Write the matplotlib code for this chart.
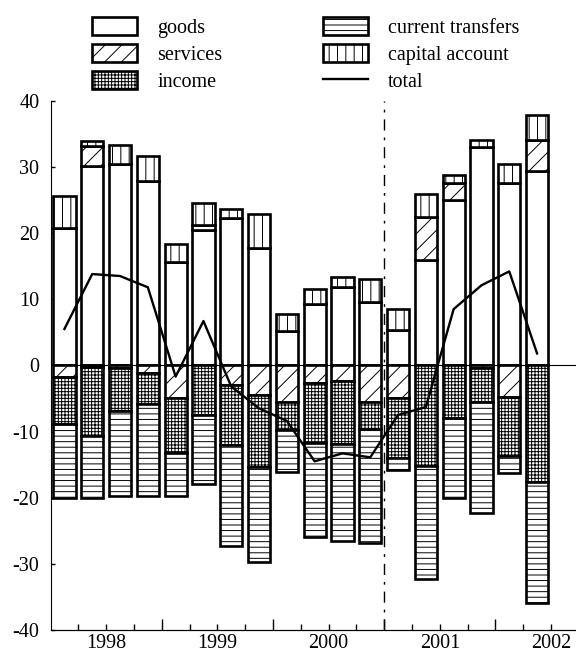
import matplotlib as mpl
import matplotlib.pyplot as plt
import numpy as np

# quarterly balance-of-payments components, 1998Q1 .. 2002Q2
years = ["1998", "1999", "2000", "2001", "2002"]
goods = [20.7, 30.2, 30.4, 27.9, 15.6, 20.5, 22.2, 17.7, 5.2,
         9.3, 11.8, 9.5, 5.4, 15.9, 25.0, 33.0, 27.5, 29.4]
services_pos = [0, 2.9, 0, 0, 0, 0, 0, 0, 0,
                0, 0, 0, 0, 6.5, 2.6, 0, 0, 4.6]
transfers_pos = [0, 0, 0, 0, 0, 0.7, 0, 0, 0,
                 0, 0, 0, 0, 0, 0, 0, 0, 0]
capital = [4.9, 0.8, 2.9, 3.7, 2.7, 3.3, 1.5, 5.1, 2.5,
           2.2, 1.5, 3.5, 3.1, 3.5, 1.1, 1.0, 3.0, 3.8]
services_neg = [-1.7, -0.2, -0.4, -1.2, -4.9, 0, -2.9, -4.5, -5.5,
                -2.7, -2.3, -5.6, -5.0, 0, 0, -0.4, -4.8, 0]
income_neg = [-7.2, -10.5, -6.5, -4.6, -8.4, -7.5, -9.2, -10.8, -4.3,
              -9.0, -9.6, -4.0, -9.0, -15.2, -8.0, -5.1, -8.9, -17.7]
transfers_neg = [-11.2, -9.4, -12.9, -14.0, -6.5, -10.4, -15.2, -14.4, -6.3,
                 -14.3, -14.7, -17.2, -1.8, -17.1, -12.1, -16.8, -2.5, -18.2]
total = [5.5, 13.8, 13.5, 11.8, -1.7, 6.7, -3.2, -6.5, -8.4,
         -14.5, -13.3, -13.9, -7.5, -6.3, 8.5, 12.1, 14.2, 1.8]

mpl.rcParams.update({
    "font.family": "serif", "font.serif": ["Liberation Serif"],
    "font.size": 14.5, "axes.unicode_minus": False,
    "hatch.linewidth": 0.7, "hatch.color": "black",
})

x = np.arange(len(goods)) + 0.5
w = 0.8
style = dict(width=w, color="white", edgecolor="black", linewidth=1.9, zorder=2)

fig = plt.figure(figsize=(5.76, 6.53), dpi=100)
ax = fig.add_axes([0.0877, 0.0352, 0.9123, 0.8106])
ax.axhline(0, color="black", lw=0.8, zorder=1)

g = np.array(goods)
sp = np.array(services_pos)
tp = np.array(transfers_pos)
sn = np.array(services_neg)
inc = np.array(income_neg)

b_goods = ax.bar(x, goods, **style)
b_serv = ax.bar(x, services_pos, bottom=g, hatch="//", **style)
ax.bar(x, transfers_pos, bottom=g + sp, hatch="---", **style)
b_cap = ax.bar(x, capital, bottom=g + sp + tp, hatch="||", **style)
ax.bar(x, services_neg, hatch="//", **style)
b_inc = ax.bar(x, income_neg, bottom=sn, hatch="+++++", **style)
b_tr = ax.bar(x, transfers_neg, bottom=sn + inc, hatch="---", **style)
ln, = ax.plot(x, total, color="black", lw=1.7, zorder=3)

ax.axvline(12, color="black", lw=1.0, ls=(0, (8, 5, 2, 5)), zorder=1.5)

ax.set_ylim(-40, 40)
ax.set_yticks(np.arange(-40, 41, 10))
ax.set_xlim(0, 18.9)
ax.set_xticks([2, 6, 10, 14, 18], years)
ax.set_xticks([1, 3, 5, 7, 9, 11, 13, 15, 17], minor=True)
ax.tick_params(axis="x", which="both", direction="in", length=4, width=1, pad=3)
ax.tick_params(axis="y", direction="in", length=3, width=1, pad=8)
for s in ("top", "right"):
    ax.spines[s].set_visible(False)

# longer ticks at year boundaries
sec = ax.secondary_xaxis("bottom")
sec.set_xticks([4, 8, 12, 16], [""] * 4)
sec.tick_params(direction="in", length=8, width=1)

fig.legend([b_goods, b_serv, b_inc, b_tr, b_cap, ln],
           ["goods", "services", "income", "current transfers", "capital account", "total"],
           ncol=2, frameon=False, loc="upper left",
           bbox_to_anchor=(92 / 576, 1 - 17 / 653),
           borderpad=0, borderaxespad=0, handlelength=2.24, handleheight=1.0,
           handletextpad=1.0, labelspacing=0.3, columnspacing=5.0)

fig.savefig("out.png", dpi=100)
